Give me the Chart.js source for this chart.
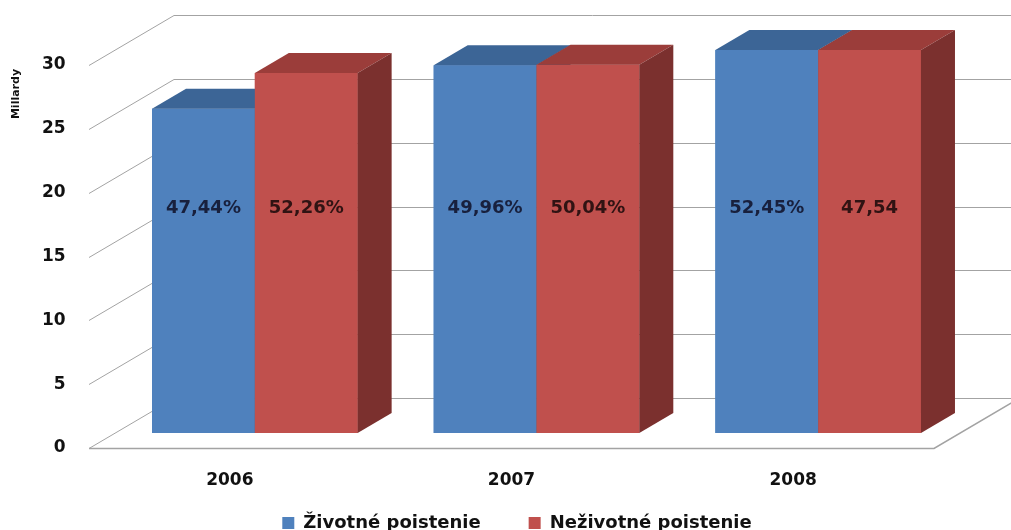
<!DOCTYPE html>
<html>
<head>
<meta charset="utf-8">
<script src="https://cdn.jsdelivr.net/npm/chart.js@4.4.1/dist/chart.umd.min.js"></script>
<style>
  html, body { margin: 0; padding: 0; background: #fff; }
  #wrap { width: 1011px; height: 530px; position: relative; }
</style>
</head>
<body>
<div id="wrap"><canvas id="chart"></canvas></div>
<script>
// Data (billions)
const years = ['2006', '2007', '2008'];
const lifeValues = [25.4, 28.8, 30.0];
const nonLifeValues = [28.2, 28.85, 30.0];
const lifeShares = ['47,44%', '49,96%', '52,45%'];
const nonLifeShares = ['52,26%', '50,04%', '47,54'];
const seriesNames = ['Životné poistenie', 'Neživotné poistenie'];

const frontColors = ['#4f81bd', '#c0504d'];
const topColors = ['#3c6596', '#9b3d3a'];
const sideColors = ['#36587f', '#7b302e'];
const shareColors = ['#18203d', '#301313'];

// 3D geometry, relative to the bar plane
const FRONT_DX = -25, FRONT_DY = 15;   // front edge of floor / walls
const BACK_DX = 60, BACK_DY = -35;     // back wall
const BAR_DX = 34, BAR_DY = -20;       // bar depth
const PLOT_BOTTOM = 433;
const LABEL_LEVEL = 17.6;
const GRID_COLOR = '#a3a3a3';

Chart.defaults.font.family = "'DejaVu Sans', sans-serif";
Chart.defaults.color = '#111';

const box3d = {
    id: 'box3d',
    beforeDatasetsDraw(chart) {
        const { ctx, chartArea: a, scales: { y } } = chart;
        ctx.save();
        ctx.strokeStyle = GRID_COLOR;
        ctx.lineWidth = 1;
        y.ticks.forEach(t => {
            const py = Math.round(y.getPixelForValue(t.value)) + 0.5;
            ctx.beginPath();
            ctx.moveTo(a.left + FRONT_DX, py + FRONT_DY);
            ctx.lineTo(a.left + BACK_DX, py + BACK_DY);
            ctx.lineTo(chart.width, py + BACK_DY);
            ctx.stroke();
        });
        // floor front and right edges
        const p0 = Math.round(y.getPixelForValue(0)) + 0.5;
        ctx.lineWidth = 1.5;
        ctx.beginPath();
        ctx.moveTo(a.left + FRONT_DX, p0 + FRONT_DY);
        ctx.lineTo(a.right + FRONT_DX, p0 + FRONT_DY);
        ctx.lineTo(a.right + BACK_DX, p0 + BACK_DY);
        ctx.stroke();

        // axis title
        ctx.fillStyle = '#111';
        ctx.font = "bold 11px 'DejaVu Sans'";
        ctx.textAlign = 'center';
        ctx.textBaseline = 'middle';
        ctx.translate(16, 94);
        ctx.rotate(-Math.PI / 2);
        ctx.fillText('Millardy', 0, 0);
        ctx.restore();
    },
    afterDatasetsDraw(chart) {
        const { ctx, scales: { y } } = chart;
        const metas = [chart.getDatasetMeta(0), chart.getDatasetMeta(1)];
        const shares = [lifeShares, nonLifeShares];
        ctx.save();
        years.forEach((yr, i) => {
            metas.forEach((meta, d) => {
                const el = meta.data[i];
                const { x, y: top, base, width } = el.getProps(['x', 'y', 'base', 'width'], true);
                const x0 = x - width / 2, x1 = x + width / 2;
                // front face (redrawn so it sits over the previous bar's side)
                ctx.fillStyle = frontColors[d];
                ctx.fillRect(x0, top, width, base - top);
                // top face
                ctx.fillStyle = topColors[d];
                ctx.beginPath();
                ctx.moveTo(x0, top);
                ctx.lineTo(x0 + BAR_DX, top + BAR_DY);
                ctx.lineTo(x1 + BAR_DX, top + BAR_DY);
                ctx.lineTo(x1, top);
                ctx.closePath();
                ctx.fill();
                // side face
                ctx.fillStyle = sideColors[d];
                ctx.beginPath();
                ctx.moveTo(x1, top);
                ctx.lineTo(x1 + BAR_DX, top + BAR_DY);
                ctx.lineTo(x1 + BAR_DX, base + BAR_DY);
                ctx.lineTo(x1, base);
                ctx.closePath();
                ctx.fill();
            });
        });
        // share labels
        ctx.font = "bold 18px 'DejaVu Sans'";
        ctx.textAlign = 'center';
        ctx.textBaseline = 'middle';
        const ly = y.getPixelForValue(LABEL_LEVEL);
        metas.forEach((meta, d) => {
            meta.data.forEach((el, i) => {
                ctx.fillStyle = shareColors[d];
                ctx.fillText(shares[d][i], el.x, ly);
            });
        });
        ctx.restore();
    }
};

new Chart(document.getElementById('chart'), {
    type: 'bar',
    data: {
        labels: years,
        datasets: [
            { label: seriesNames[0], data: lifeValues, backgroundColor: frontColors[0] },
            { label: seriesNames[1], data: nonLifeValues, backgroundColor: frontColors[1] }
        ]
    },
    options: {
        responsive: true,
        maintainAspectRatio: false,
        animation: false,
        datasets: { bar: { categoryPercentage: 0.73, barPercentage: 1.0 } },
        layout: { padding: { top: 50, right: 52, left: 75, bottom: 0 } },
        plugins: {
            legend: {
                position: 'bottom',
                maxHeight: 64,
                labels: {
                    boxWidth: 12,
                    boxHeight: 12,
                    padding: 48,
                    color: '#111',
                    font: { size: 18, weight: 'bold' }
                }
            },
            tooltip: { enabled: false }
        },
        scales: {
            x: {
                grid: { display: false, drawTicks: false },
                border: { display: false },
                // mirrored so the labels are not clipped to the thin axis box
                ticks: { mirror: true, labelOffset: -25, padding: -58, color: '#111', font: { size: 17, weight: 'bold' } },
                afterFit(s) {
                    s.height = s.chart.height - PLOT_BOTTOM - s.chart.legend.height;
                    s.paddingLeft = 0;
                    s.paddingRight = 0;
                }
            },
            y: {
                min: 0,
                max: 30,
                grid: { display: false, drawTicks: false },
                border: { display: false },
                ticks: { stepSize: 5, mirror: true, crossAlign: 'far', labelOffset: 15, padding: -72, color: '#111', font: { size: 17, weight: 'bold' } },
                afterFit(s) {
                    s.width = 39;
                    s.paddingTop = 0;
                    s.paddingBottom = 0;
                }
            }
        }
    },
    plugins: [box3d]
});
</script>
</body>
</html>
